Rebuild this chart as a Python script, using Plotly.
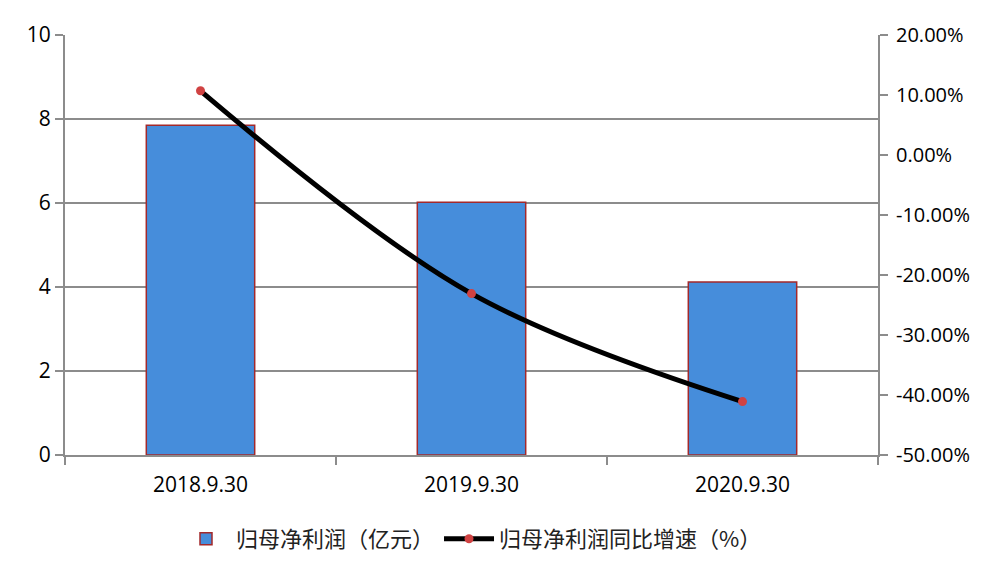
import plotly.graph_objects as go

categories = ["2018.9.30", "2019.9.30", "2020.9.30"]
profit = [7.85, 6.02, 4.12]          # 归母净利润（亿元）
growth = [10.7, -23.1, -41.1]        # 归母净利润同比增速（%）
left_ticks = [0, 2, 4, 6, 8, 10]
right_ticks = [-50, -40, -30, -20, -10, 0, 10, 20]

font_latin = "Open Sans, Noto Sans CJK SC, sans-serif"
font_cjk = "Noto Sans CJK SC, Open Sans, sans-serif"
grey = "#8c8c8c"

fig = go.Figure()
fig.add_trace(go.Bar(
    x=categories, y=profit, name="归母净利润（亿元）",
    marker=dict(color="#468ddb", line=dict(color="#a3292b", width=1.5)),
    width=0.4, yaxis="y",
))
fig.add_trace(go.Scatter(
    x=categories, y=growth, name="归母净利润同比增速（%）",
    mode="lines+markers", yaxis="y2",
    line=dict(color="black", width=5, shape="spline", smoothing=1.0),
    marker=dict(color="#d04242", size=9),
))

fig.update_layout(
    width=992, height=578,
    margin=dict(l=57, r=122, t=21, b=131),
    plot_bgcolor="white", paper_bgcolor="white",
    font=dict(family=font_latin, size=21, color="black"),
    showlegend=True,
    legend=dict(orientation="h", x=0.5, xanchor="center", y=-0.2, yanchor="middle",
                font=dict(family=font_cjk, size=22, color="#222"),
                itemwidth=50, traceorder="normal"),
    bargap=0.6,
    xaxis=dict(
        type="category", showline=True, linecolor=grey, linewidth=2,
        ticks="outside", tickson="boundaries", ticklen=8, tickcolor=grey, tickwidth=2,
        showgrid=False, tickfont=dict(size=21), ticklabelstandoff=10,
    ),
    yaxis=dict(
        range=[0, 10], tickvals=left_ticks, showline=True, linecolor=grey, linewidth=2,
        ticks="outside", ticklen=8, tickcolor=grey, tickwidth=2,
        showgrid=True, gridcolor=grey, gridwidth=1.5, zeroline=False,
        tickfont=dict(size=21),
    ),
    yaxis2=dict(
        range=[-50, 20], tickvals=right_ticks,
        ticktext=[f"{v:.2f}%" for v in right_ticks],
        overlaying="y", side="right", showline=True, linecolor=grey, linewidth=2,
        ticks="outside", ticklen=8, tickcolor=grey, tickwidth=2,
        showgrid=False, zeroline=False, tickfont=dict(size=20), ticklabelstandoff=4,
    ),
)

fig.write_html("out.html")
